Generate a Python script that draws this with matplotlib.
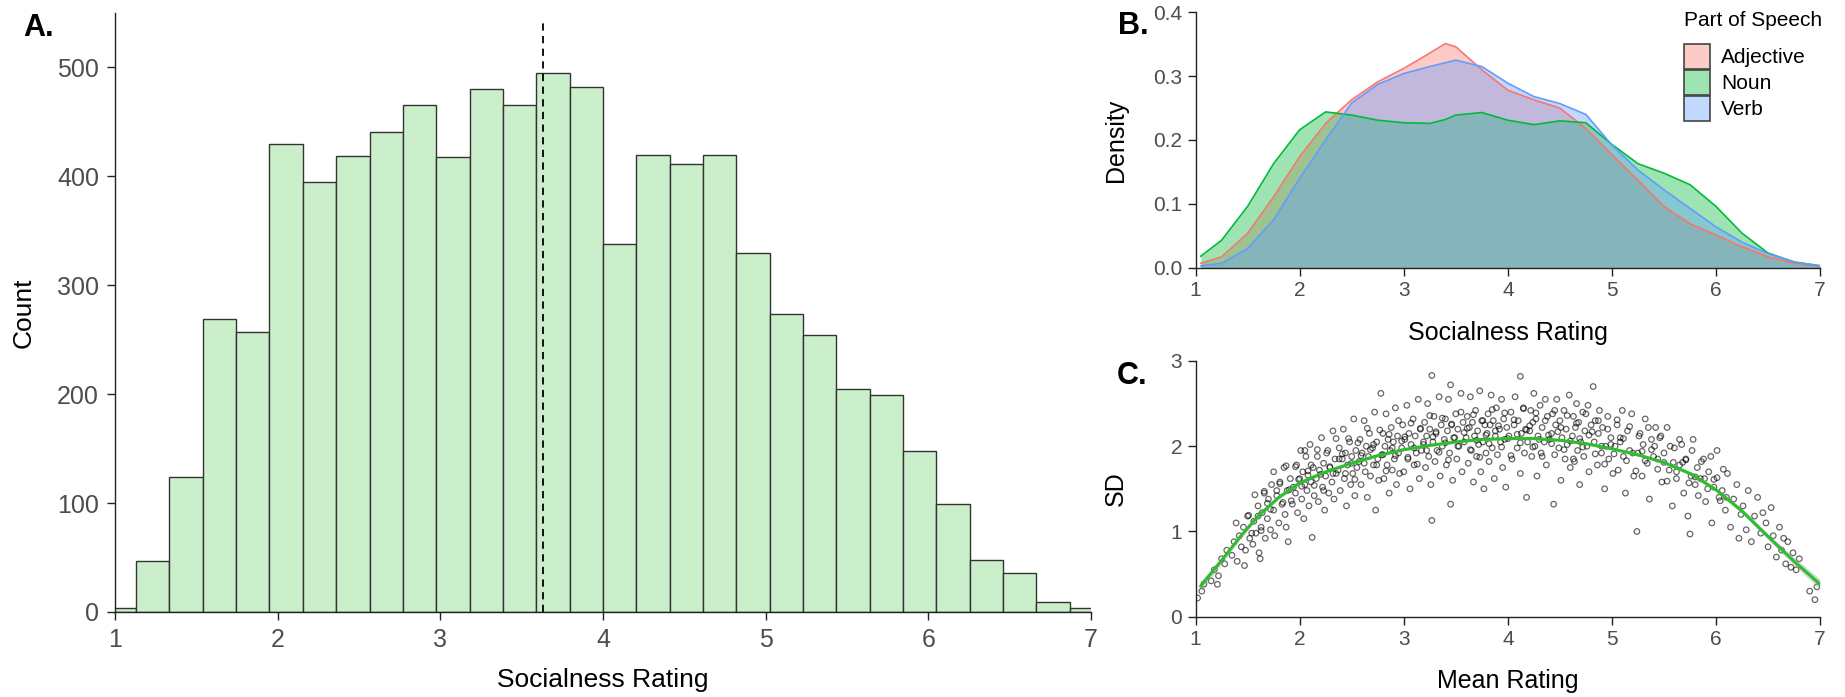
import matplotlib
matplotlib.use("Agg")
import matplotlib.pyplot as plt
from matplotlib.patches import Patch

plt.rcParams["font.family"] = ["Liberation Sans", "DejaVu Sans"]

# ---- A: histogram of mean socialness ratings (30 bins) ----
hist_start = 0.925
bin_width = 0.205
hist_counts = [4, 47, 124, 269, 257, 430, 395, 419, 441, 466,
               418, 480, 466, 495, 482, 338, 420, 411, 420, 330,
               274, 254, 205, 199, 148, 99, 48, 36, 9, 4]
mean_rating = 3.63

# ---- B: density by part of speech ----
dens_x = [1.05, 1.25, 1.5, 1.75, 2.0, 2.25, 2.5, 2.75, 3.0, 3.25, 3.4, 3.5, 3.75,
          4.0, 4.25, 4.5, 4.75, 5.0, 5.25, 5.5, 5.75, 6.0, 6.25, 6.5, 6.75, 7.0]
dens_adjective = [0.007, 0.017, 0.054, 0.111, 0.174, 0.226, 0.263, 0.291, 0.312, 0.336, 0.351, 0.346, 0.310,
                  0.278, 0.263, 0.250, 0.218, 0.177, 0.137, 0.096, 0.069, 0.051, 0.033, 0.017, 0.007, 0.002]
dens_noun = [0.018, 0.043, 0.096, 0.163, 0.216, 0.244, 0.239, 0.231, 0.227, 0.226, 0.232, 0.239, 0.243,
             0.231, 0.224, 0.230, 0.227, 0.193, 0.163, 0.148, 0.130, 0.096, 0.054, 0.023, 0.009, 0.003]
dens_verb = [0.003, 0.007, 0.030, 0.075, 0.140, 0.200, 0.258, 0.287, 0.304, 0.315, 0.321, 0.325, 0.315,
             0.289, 0.268, 0.257, 0.240, 0.192, 0.153, 0.122, 0.093, 0.064, 0.040, 0.022, 0.009, 0.003]
pos_labels = ["Adjective", "Noun", "Verb"]
pos_colors = ["#F8766D", "#00BA38", "#619CFF"]

# ---- C: item SD against item mean, with smoother ----
# pontos lidos da nuvem (periferia + miolo)
cloud_points = [
    (1.02, 0.22), (1.06, 0.30), (1.08, 0.38),
    (1.15, 0.42), (1.18, 0.55), (1.22, 0.48), (1.25, 0.68), (1.28, 0.62), (1.30, 0.78), (1.21, 0.38),
    (1.35, 0.72), (1.37, 0.88), (1.40, 0.65), (1.42, 0.95), (1.44, 0.82), (1.46, 1.05), (1.48, 0.78),
    (1.50, 1.18), (1.52, 0.92), (1.39, 1.10), (1.47, 0.60),
    (1.55, 0.85), (1.56, 1.12), (1.58, 0.98), (1.60, 1.30), (1.61, 0.75), (1.63, 1.05), (1.64, 1.22),
    (1.66, 1.45), (1.67, 0.92), (1.69, 1.15), (1.70, 1.38), (1.72, 1.02), (1.73, 1.55), (1.62, 0.68),
    (1.75, 1.25), (1.76, 0.95), (1.78, 1.42), (1.80, 1.10), (1.81, 1.58), (1.83, 1.32), (1.85, 1.75),
    (1.86, 1.20), (1.88, 1.48), (1.89, 0.88), (1.91, 1.62), (1.92, 1.36), (1.94, 1.52), (1.87, 1.05),
    (1.96, 1.45), (1.97, 1.78), (1.98, 1.22), (2.00, 1.62), (2.01, 1.95), (2.02, 1.38), (2.03, 1.70),
    (2.04, 1.15), (2.05, 1.55), (2.06, 1.88), (2.07, 1.48), (2.08, 1.66), (2.09, 1.30), (2.10, 2.02),
    (2.11, 1.58), (2.12, 0.93), (2.13, 1.75), (2.14, 1.42),
    (2.16, 1.62), (2.17, 1.88), (2.18, 1.35), (2.19, 1.72), (2.21, 2.10), (2.22, 1.52), (2.23, 1.80),
    (2.24, 1.25), (2.25, 1.65), (2.27, 1.95), (2.28, 1.45), (2.29, 1.75), (2.31, 1.58), (2.32, 2.18),
    (2.33, 1.38), (2.34, 1.85), (2.35, 1.68),
    (2.37, 1.72), (2.38, 1.98), (2.39, 1.48), (2.41, 1.85), (2.42, 2.20), (2.43, 1.62), (2.44, 1.92),
    (2.45, 1.30), (2.46, 1.78), (2.48, 2.05), (2.49, 1.55), (2.50, 1.88), (2.51, 1.68), (2.52, 2.32),
    (2.53, 1.42), (2.54, 1.95), (2.55, 1.75),
    (2.57, 1.82), (2.58, 2.08), (2.59, 1.55), (2.60, 1.92), (2.62, 2.30), (2.63, 1.70), (2.64, 2.00),
    (2.65, 1.40), (2.66, 1.88), (2.67, 2.15), (2.68, 1.65), (2.70, 1.98), (2.71, 1.78), (2.72, 2.40),
    (2.73, 1.25), (2.74, 2.05), (2.75, 1.85), (2.76, 1.60),
    (2.78, 2.62), (2.79, 1.90), (2.80, 2.15), (2.81, 1.62), (2.82, 2.00), (2.83, 2.38), (2.84, 1.78),
    (2.85, 2.08), (2.86, 1.45), (2.87, 1.95), (2.88, 2.22), (2.89, 1.72), (2.90, 2.05), (2.91, 1.85),
    (2.92, 2.45), (2.93, 1.55), (2.94, 2.12), (2.95, 1.92), (2.96, 1.68),
    (2.98, 1.98), (2.99, 2.25), (3.00, 1.70), (3.01, 2.08), (3.03, 2.48), (3.04, 1.85), (3.05, 2.15),
    (3.06, 1.50), (3.07, 2.02), (3.09, 2.32), (3.10, 1.78), (3.11, 2.12), (3.12, 1.92), (3.14, 2.55),
    (3.15, 1.62), (3.16, 2.20), (3.17, 1.95),
    (3.19, 2.02), (3.20, 2.28), (3.21, 1.75), (3.22, 2.12), (3.23, 2.50), (3.24, 1.88), (3.25, 2.20),
    (3.26, 1.55), (3.27, 1.13), (3.27, 2.83), (3.28, 2.05), (3.29, 2.35), (3.30, 1.82), (3.31, 2.15),
    (3.32, 1.95), (3.34, 2.58), (3.35, 1.65), (3.36, 2.25), (3.37, 2.00),
    (3.39, 2.08), (3.40, 2.32), (3.41, 1.78), (3.42, 2.18), (3.43, 2.55), (3.44, 1.92), (3.45, 2.72),
    (3.45, 1.32), (3.46, 2.25), (3.47, 1.60), (3.48, 2.10), (3.50, 2.38), (3.51, 1.85), (3.52, 2.20),
    (3.53, 2.00), (3.55, 2.62), (3.56, 1.70), (3.57, 2.28), (3.58, 2.05),
    (3.60, 2.10), (3.61, 2.35), (3.62, 1.80), (3.63, 2.22), (3.64, 2.58), (3.65, 1.95), (3.66, 2.28),
    (3.67, 1.58), (3.68, 2.12), (3.69, 2.42), (3.70, 1.88), (3.71, 2.18), (3.72, 2.02), (3.73, 2.65),
    (3.74, 1.70), (3.75, 2.30), (3.76, 2.05), (3.77, 1.50), (3.78, 2.25), (3.79, 1.92),
    (3.80, 2.15), (3.81, 2.38), (3.82, 1.82), (3.83, 2.25), (3.84, 2.60), (3.85, 1.98), (3.86, 2.30),
    (3.87, 1.62), (3.88, 2.12), (3.89, 2.45), (3.90, 1.90), (3.92, 2.20), (3.93, 2.05), (3.94, 2.55),
    (3.95, 1.75), (3.96, 2.32), (3.97, 2.08), (3.98, 1.52), (3.99, 2.22),
    (4.01, 2.12), (4.03, 2.40), (4.04, 1.85), (4.06, 2.25), (4.07, 2.58), (4.09, 1.98), (4.10, 2.30),
    (4.12, 2.82), (4.12, 1.68), (4.13, 2.15), (4.15, 2.45), (4.16, 1.92), (4.17, 2.20), (4.18, 1.40),
    (4.19, 2.05),
    (4.21, 2.18), (4.22, 2.42), (4.23, 1.88), (4.24, 2.28), (4.25, 2.62), (4.26, 2.00), (4.27, 2.32),
    (4.28, 1.65), (4.29, 2.12), (4.31, 2.48), (4.32, 1.92), (4.33, 2.22), (4.35, 2.05), (4.36, 2.55),
    (4.37, 1.78), (4.38, 2.35), (4.40, 2.08),
    (4.42, 2.15), (4.43, 2.38), (4.44, 1.32), (4.45, 1.90), (4.46, 2.25), (4.47, 2.55), (4.49, 1.98),
    (4.50, 2.30), (4.51, 1.60), (4.52, 2.10), (4.54, 2.42), (4.55, 1.85), (4.56, 2.20), (4.57, 2.02),
    (4.59, 2.60), (4.60, 1.75),
    (4.62, 2.12), (4.63, 2.35), (4.64, 1.82), (4.65, 2.22), (4.66, 2.50), (4.67, 1.95), (4.68, 2.28),
    (4.69, 1.55), (4.70, 2.05), (4.72, 2.40), (4.73, 1.88), (4.74, 2.18), (4.76, 2.00), (4.77, 2.48),
    (4.78, 1.70), (4.80, 2.25), (4.82, 2.70),
    (4.83, 2.05), (4.84, 2.30), (4.86, 1.78), (4.87, 2.15), (4.88, 2.42), (4.90, 1.92), (4.91, 2.22),
    (4.93, 1.50), (4.94, 2.00), (4.96, 2.35), (4.97, 1.85), (4.99, 2.10), (5.01, 1.68),
    (5.03, 2.00), (5.05, 2.25), (5.06, 1.72), (5.08, 2.10), (5.10, 2.42), (5.11, 1.88), (5.13, 1.45),
    (5.15, 2.18), (5.17, 1.95), (5.19, 2.38), (5.21, 1.65),
    (5.24, 1.00), (5.25, 1.92), (5.27, 2.15), (5.29, 1.65), (5.30, 2.02), (5.32, 2.32), (5.34, 1.80),
    (5.36, 1.38), (5.38, 2.08), (5.40, 1.88), (5.42, 2.22),
    (5.44, 1.85), (5.46, 2.10), (5.48, 1.58), (5.50, 1.92), (5.53, 2.22), (5.55, 1.72), (5.58, 1.30),
    (5.60, 1.98), (5.62, 1.62),
    (5.65, 1.78), (5.67, 2.02), (5.69, 1.45), (5.71, 1.85), (5.73, 1.18), (5.75, 0.97), (5.76, 1.65),
    (5.78, 2.08), (5.80, 1.55), (5.82, 1.75),
    (5.85, 1.62), (5.88, 1.85), (5.90, 1.35), (5.93, 1.70), (5.96, 1.10), (5.98, 1.52), (6.01, 1.95),
    (6.03, 1.40),
    (6.06, 1.48), (6.09, 1.25), (6.11, 1.68), (6.14, 1.05), (6.17, 1.38), (6.20, 1.55), (6.22, 0.92),
    (6.24, 1.20),
    (6.26, 1.30), (6.29, 1.02), (6.31, 1.48), (6.34, 0.88), (6.37, 1.18), (6.40, 1.40), (6.43, 0.98),
    (6.45, 1.22),
    (6.48, 1.10), (6.50, 0.82), (6.53, 1.28), (6.55, 0.95), (6.58, 0.70), (6.61, 1.05), (6.63, 0.78),
    (6.65, 0.92),
    (6.67, 0.62), (6.69, 0.88), (6.72, 0.58), (6.74, 0.75), (6.77, 0.55), (6.80, 0.68),
    (6.90, 0.30), (6.95, 0.20), (6.97, 0.35),
]
cloud_points_core = [
    (1.51, 1.19), (1.54, 0.98), (1.57, 1.43), (1.60, 1.18), (1.63, 1.01), (1.66, 1.47), (1.69, 1.33),
    (1.72, 1.26), (1.75, 1.70), (1.78, 1.48), (1.81, 1.56), (1.84, 1.34), (1.87, 1.77), (1.90, 1.49),
    (1.93, 1.32), (1.96, 1.76), (1.99, 1.61), (2.02, 1.53), (2.05, 1.95), (2.08, 1.71), (2.11, 1.78),
    (2.14, 1.54), (2.17, 1.96), (2.20, 1.67), (2.23, 1.48), (2.26, 1.92), (2.29, 1.76), (2.32, 1.68),
    (2.35, 2.09), (2.38, 1.85), (2.41, 1.91), (2.44, 1.68), (2.47, 2.09), (2.50, 1.80), (2.53, 1.61),
    (2.56, 2.04), (2.59, 1.89), (2.62, 1.80), (2.65, 2.21), (2.68, 1.96), (2.71, 2.02), (2.74, 1.78),
    (2.77, 2.19), (2.80, 1.90), (2.83, 1.71), (2.86, 2.14), (2.89, 1.98), (2.92, 1.89), (2.95, 2.30),
    (2.98, 2.06), (3.01, 2.11), (3.04, 1.87), (3.07, 2.27), (3.10, 1.98), (3.13, 1.79), (3.16, 2.21),
    (3.19, 2.05), (3.22, 1.95), (3.25, 2.36), (3.28, 2.11), (3.31, 2.17), (3.34, 1.93), (3.37, 2.33),
    (3.40, 2.04), (3.43, 1.84), (3.46, 2.26), (3.49, 2.10), (3.52, 2.00), (3.55, 2.40), (3.58, 2.16),
    (3.61, 2.21), (3.64, 1.96), (3.67, 2.37), (3.70, 2.07), (3.73, 1.87), (3.76, 2.30), (3.79, 2.13),
    (3.82, 2.03), (3.85, 2.43), (3.88, 2.18), (3.91, 2.24), (3.94, 1.99), (3.97, 2.39), (4.00, 2.09),
    (4.03, 1.89), (4.06, 2.31), (4.09, 2.14), (4.12, 2.04), (4.15, 2.44), (4.18, 2.19), (4.21, 2.24),
    (4.24, 1.99), (4.27, 2.39), (4.30, 2.08), (4.33, 1.88), (4.36, 2.30), (4.39, 2.13), (4.42, 2.03),
    (4.45, 2.42), (4.48, 2.17), (4.51, 2.22), (4.54, 1.96), (4.57, 2.36), (4.60, 2.06), (4.63, 1.85),
    (4.66, 2.27), (4.69, 2.09), (4.72, 1.99), (4.75, 2.38), (4.78, 2.13), (4.81, 2.17), (4.84, 1.91),
    (4.87, 2.30), (4.90, 2.00), (4.93, 1.79), (4.96, 2.20), (4.99, 2.02), (5.02, 1.91), (5.05, 2.31),
    (5.08, 2.05), (5.11, 2.09), (5.14, 1.83), (5.17, 2.23), (5.20, 1.92), (5.23, 1.71), (5.26, 2.12),
    (5.29, 1.94), (5.32, 1.83), (5.35, 2.22), (5.38, 1.96), (5.41, 2.00), (5.44, 1.73), (5.47, 2.12),
    (5.50, 1.81), (5.53, 1.59), (5.56, 2.00), (5.59, 1.81), (5.62, 1.70), (5.65, 2.08), (5.68, 1.81),
    (5.71, 1.84), (5.74, 1.57), (5.77, 1.95), (5.80, 1.64), (5.83, 1.42), (5.86, 1.82), (5.89, 1.62),
    (5.92, 1.50), (5.95, 1.88), (5.98, 1.61), (6.01, 1.63), (6.04, 1.36), (6.07, 1.73), (6.10, 1.40),
]
smooth_x = [1.05, 1.25, 1.43, 1.6, 1.8, 2.0, 2.25, 2.5, 2.75, 3.0, 3.25, 3.5, 3.75,
            4.0, 4.25, 4.5, 4.75, 5.0, 5.25, 5.5, 5.75, 6.0, 6.25, 6.5, 6.75, 7.0]
smooth_sd = [0.36, 0.66, 0.94, 1.18, 1.40, 1.57, 1.70, 1.80, 1.89, 1.96, 2.01, 2.05, 2.08,
             2.09, 2.09, 2.07, 2.03, 1.97, 1.90, 1.81, 1.68, 1.49, 1.24, 0.94, 0.65, 0.38]
smooth_se = [0.06, 0.04, 0.03, 0.025, 0.02, 0.02, 0.015, 0.015, 0.015, 0.015, 0.015, 0.015, 0.015,
             0.015, 0.015, 0.015, 0.015, 0.015, 0.015, 0.02, 0.02, 0.025, 0.03, 0.035, 0.045, 0.06]

TICK_GREY = "#4D4D4D"
LINE = "#222222"


def estilo(ax, tick_size, pad):
    for lado in ("top", "right"):
        ax.spines[lado].set_visible(False)
    for lado in ("left", "bottom"):
        ax.spines[lado].set_color(LINE)
        ax.spines[lado].set_linewidth(1.0)
    ax.tick_params(length=5.5, width=1.0, color=LINE, labelcolor=TICK_GREY,
                   labelsize=tick_size, pad=pad)


fig = plt.figure(figsize=(18.45, 6.97), dpi=100)

# --- A ---
axA = fig.add_axes([0.0623, 0.1220, 0.5290, 0.8593])
lefts = [hist_start + i * bin_width for i in range(len(hist_counts))]
axA.bar(lefts, hist_counts, width=bin_width, align="edge", color="#CBEFCA",
        edgecolor="#333333", linewidth=1.0)
axA.vlines(mean_rating, 0, 545, colors="black", linestyles=(0, (4, 3)), linewidth=1.3)
axA.set_xlim(1, 7)
axA.set_ylim(0, 550)
axA.set_xticks([1, 2, 3, 4, 5, 6, 7])
axA.set_yticks([0, 100, 200, 300, 400, 500])
estilo(axA, 18, 6)
axA.set_xlabel("Socialness Rating", fontsize=19)
axA.set_ylabel("Count", fontsize=19)
axA.xaxis.set_label_coords(0.5, -0.094)
axA.yaxis.set_label_coords(-0.081, 0.5)

# --- B ---
axB = fig.add_axes([0.6480, 0.6159, 0.3385, 0.3665])
for serie, nome, cor in zip([dens_adjective, dens_noun, dens_verb], pos_labels, pos_colors):
    axB.fill_between(dens_x, serie, 0, color=cor, alpha=0.38, linewidth=0)
    axB.plot(dens_x, serie, color=cor, linewidth=1.2)
axB.set_xlim(1, 7)
axB.set_ylim(0, 0.4)
axB.set_xticks([1, 2, 3, 4, 5, 6, 7])
axB.set_yticks([0.0, 0.1, 0.2, 0.3, 0.4])
axB.set_yticklabels(["0.0", "0.1", "0.2", "0.3", "0.4"])
estilo(axB, 15, 4)
axB.set_xlabel("Socialness Rating", fontsize=18)
axB.set_ylabel("Density", fontsize=18)
axB.xaxis.set_label_coords(0.5, -0.21)
axB.yaxis.set_label_coords(-0.108, 0.5)
handles = [Patch(facecolor=c, alpha=0.38) for c in pos_colors]
handles = [Patch(facecolor=h.get_facecolor(), edgecolor="#444444", linewidth=1.2) for h in handles]
leg = axB.legend(handles, pos_labels, title="Part of Speech", loc="upper left",
                 bbox_to_anchor=(0.775, 1.02), frameon=False, fontsize=15,
                 title_fontsize=15, handlelength=1.25, handleheight=1.45,
                 labelspacing=0.05, handletextpad=0.55, borderaxespad=0,
                 borderpad=0.2, alignment="left")
leg._legend_box.sep = 10  # espaço entre o título e as chaves

# --- C ---
axC = fig.add_axes([0.6480, 0.1152, 0.3385, 0.3669])
todos = cloud_points + cloud_points_core
cx = [p[0] for p in todos]
cy = [p[1] for p in todos]
axC.scatter(cx, cy, s=16, facecolors="none", edgecolors=(0, 0, 0, 0.6), linewidths=0.9)
lo = [m - e for m, e in zip(smooth_sd, smooth_se)]
hi = [m + e for m, e in zip(smooth_sd, smooth_se)]
axC.fill_between(smooth_x, lo, hi, color="#999999", alpha=0.4, linewidth=0)
axC.plot(smooth_x, smooth_sd, color="#2DBE2D", linewidth=2.2)
axC.set_xlim(1, 7)
axC.set_ylim(0, 3)
axC.set_xticks([1, 2, 3, 4, 5, 6, 7])
axC.set_yticks([0, 1, 2, 3])
estilo(axC, 15, 4)
axC.set_xlabel("Mean Rating", fontsize=18)
axC.set_ylabel("SD", fontsize=18)
axC.xaxis.set_label_coords(0.5, -0.205)
axC.yaxis.set_label_coords(-0.108, 0.5)

# letras dos painéis
fig.text(0.0125, 0.960, "A.", fontsize=22, fontweight="bold", va="center", ha="left")
fig.text(0.606, 0.963, "B.", fontsize=22, fontweight="bold", va="center", ha="left")
fig.text(0.6054, 0.4605, "C.", fontsize=22, fontweight="bold", va="center", ha="left")

fig.savefig("out.png", dpi=100)
